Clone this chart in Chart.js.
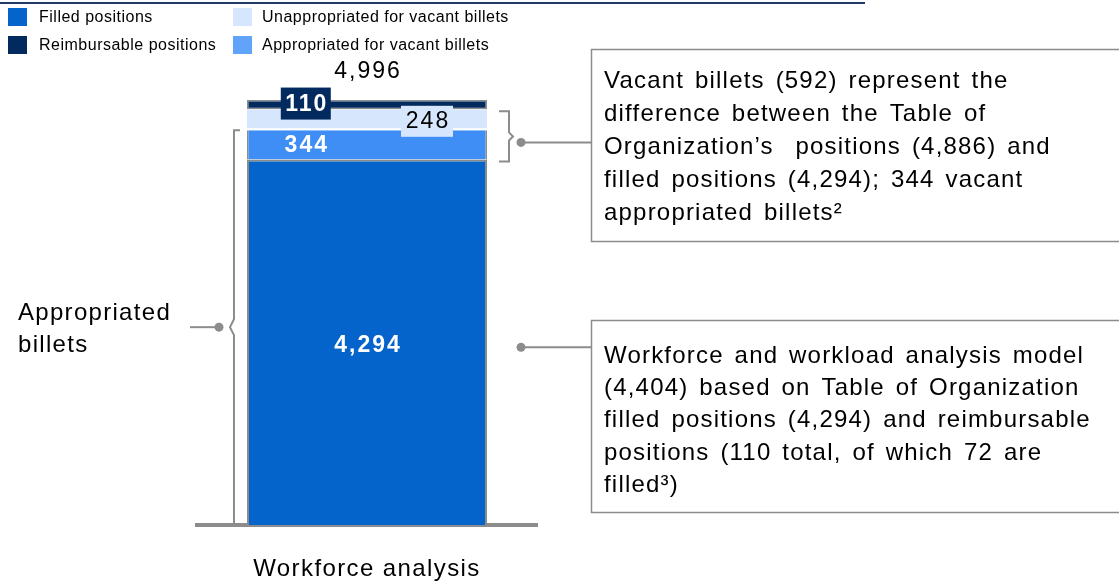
<!DOCTYPE html>
<html><head><meta charset="utf-8">
<script src="https://cdn.jsdelivr.net/npm/chart.js@4/dist/chart.umd.min.js"></script>
<style>html,body{margin:0;padding:0;background:#fff;overflow:hidden}#wrap{position:relative;width:1119px;height:586px}</style>
</head><body><div id="wrap"><canvas id="c" width="1119" height="586"></canvas></div>
<script>
// ---- data ----
const categories = ['Workforce analysis'];
const filledPositions = [4294];
const appropriatedVacant = [344];
const unappropriatedVacant = [248];
const reimbursablePositions = [110];
const totalLabel = ['4,996'];
const segmentLabels = ['4,294', '344', '248', '110'];
const legendNames = ['Filled positions', 'Reimbursable positions', 'Unappropriated for vacant billets', 'Appropriated for vacant billets'];
const leftNote = ['Appropriated', 'billets'];
const note1 = ['Vacant billets (592) represent the', 'difference between the Table of', 'Organization\u2019s  positions (4,886) and', 'filled positions (4,294); 344 vacant', 'appropriated billets\u00B2'];
const note2 = ['Workforce and workload analysis model', '(4,404) based on Table of Organization', 'filled positions (4,294) and reimbursable', 'positions (110 total, of which 72 are', 'filled\u00B3)'];

const C_FILLED = '#0563CC', C_APPR = '#3F8EF5', C_UNAPPR = '#D6E6FC', C_REIMB = '#022A5E', GRAY = '#8c8c8c';
const FONT = "'Liberation Sans', Arial, sans-serif";
Chart.defaults.font.family = FONT;

const spacing = {
  id: 'spacing',
  beforeDraw(chart) { chart.ctx.letterSpacing = '1.4px'; },
  beforeDatasetsDraw(chart) { chart.ctx.letterSpacing = '0px'; }
};

const overlay = {
  id: 'overlay',
  afterDraw(chart) {
    const ctx = chart.ctx;
    const y = chart.scales.y;
    const mF = chart.getDatasetMeta(0).data[0];
    const bl = mF.x - mF.width / 2, bw = mF.width;
    ctx.save();
    // top rule
    ctx.fillStyle = '#1f3864';
    ctx.fillRect(0, 2, 865, 2);
    // legend
    const leg = [[legendNames[0], C_FILLED, 8, 8, 39], [legendNames[1], C_REIMB, 8, 36, 39], [legendNames[2], C_UNAPPR, 233, 8, 262], [legendNames[3], '#62A3FA', 233, 36, 262]];
    ctx.font = '16px ' + FONT; ctx.textBaseline = 'middle'; ctx.textAlign = 'left';
    ctx.letterSpacing = '0.5px';
    leg.forEach(([t, c, sx, sy, tx]) => { ctx.fillStyle = c; ctx.fillRect(sx, sy, 19, 18); ctx.fillStyle = '#000'; ctx.fillText(t, tx, sy + 10); });

    const v0 = filledPositions[0], v1 = v0 + appropriatedVacant[0], v2 = v1 + unappropriatedVacant[0], v3 = v2 + reimbursablePositions[0];
    const p0 = y.getPixelForValue(0), pF = y.getPixelForValue(v0), pA = y.getPixelForValue(v1), pU = y.getPixelForValue(v2), pT = y.getPixelForValue(v3);

    ctx.textAlign = 'center';
    ctx.letterSpacing = '2px';
    // 4,294
    ctx.fillStyle = '#fff'; ctx.font = 'bold 23px ' + FONT;
    ctx.fillText(segmentLabels[0], bl + bw * 0.5 + 1, (p0 + pF) / 2 + 3);
    // 344
    ctx.fillText(segmentLabels[1], bl + bw * 0.245 + 1, (pF + pA) / 2 + 1);
    // 248 box
    const cx248 = bl + bw * 0.75, cy248 = (pA + pU) / 2 + 1;
    ctx.fillStyle = C_UNAPPR; ctx.fillRect(cx248 - 26, cy248 - 15, 52, 31);
    ctx.fillStyle = '#000'; ctx.font = '23px ' + FONT; ctx.fillText(segmentLabels[2], cx248 + 1, cy248 + 1);
    // 110 box
    const cx110 = bl + bw * 0.245, cy110 = (pU + pT) / 2 - 1;
    ctx.fillStyle = C_REIMB; ctx.fillRect(cx110 - 25, cy110 - 16, 50, 32);
    ctx.fillStyle = '#fff'; ctx.font = 'bold 23px ' + FONT; ctx.fillText(segmentLabels[3], cx110 + 1, cy110 + 1);
    // total
    ctx.fillStyle = '#000'; ctx.font = '23px ' + FONT; ctx.fillText(totalLabel[0], bl + bw * 0.5 + 1, pT - 28);

    // braces
    ctx.letterSpacing = '0px';
    ctx.strokeStyle = GRAY; ctx.lineWidth = 2; ctx.fillStyle = GRAY;
    const rx = bl + bw + 22, ry1 = pU + 2, ry2 = pF + 2, rmid = (ry1 + ry2) / 2;
    ctx.beginPath();
    ctx.moveTo(rx - 10, ry1); ctx.lineTo(rx, ry1); ctx.lineTo(rx, rmid - 4); ctx.lineTo(rx + 4, rmid); ctx.lineTo(rx, rmid + 4); ctx.lineTo(rx, ry2); ctx.lineTo(rx - 10, ry2);
    ctx.stroke();
    ctx.beginPath(); ctx.moveTo(rx + 12, rmid + 6); ctx.lineTo(591, rmid + 6); ctx.stroke();
    ctx.beginPath(); ctx.arc(rx + 12, rmid + 6, 4.5, 0, Math.PI * 2); ctx.fill();
    const fy = (p0 + pF) / 2 + 5;
    ctx.beginPath(); ctx.moveTo(rx + 12, fy); ctx.lineTo(591, fy); ctx.stroke();
    ctx.beginPath(); ctx.arc(rx + 12, fy, 4.5, 0, Math.PI * 2); ctx.fill();
    const lx = bl - 13, ly1 = pA, ly2 = p0 - 1, lmid = (ly1 + ly2) / 2;
    ctx.beginPath();
    ctx.moveTo(lx + 6, ly1); ctx.lineTo(lx, ly1); ctx.lineTo(lx, lmid - 8); ctx.lineTo(lx - 4, lmid); ctx.lineTo(lx, lmid + 8); ctx.lineTo(lx, ly2); ctx.lineTo(lx + 6, ly2);
    ctx.stroke();
    ctx.beginPath(); ctx.moveTo(190, lmid); ctx.lineTo(lx - 15, lmid); ctx.stroke();
    ctx.beginPath(); ctx.arc(lx - 15, lmid, 4.5, 0, Math.PI * 2); ctx.fill();
    ctx.fillStyle = '#000'; ctx.textAlign = 'left'; ctx.font = '24px ' + FONT;
    ctx.letterSpacing = '1.3px';
    ctx.fillText(leftNote[0], 18, lmid - 14); ctx.fillText(leftNote[1], 18, lmid + 18);

    // callout boxes
    ctx.letterSpacing = '0px';
    ctx.strokeStyle = GRAY; ctx.lineWidth = 1.5;
    ctx.fillStyle = '#fff'; ctx.fillRect(591, 49, 600, 192); ctx.strokeRect(591.5, 49.5, 600, 192);
    ctx.fillRect(591, 320, 600, 192); ctx.strokeRect(591.5, 320.5, 600, 192);
    ctx.fillStyle = '#000'; ctx.font = '24px ' + FONT;
    ctx.letterSpacing = '1.2px'; ctx.wordSpacing = '3px';
    note1.forEach((t, i) => ctx.fillText(t, 604, 81 + i * 33));
    note2.forEach((t, i) => ctx.fillText(t, 604, 356 + i * 32.3));
    ctx.restore();
  }
};

new Chart(document.getElementById('c'), {
  type: 'bar',
  data: {
    labels: categories,
    datasets: [
      { label: 'Filled positions', data: filledPositions, backgroundColor: C_FILLED, borderColor: GRAY, borderWidth: { top: 2, left: 2, right: 2, bottom: 0 }, borderSkipped: false },
      { label: 'Appropriated for vacant billets', data: appropriatedVacant, backgroundColor: C_APPR, borderColor: GRAY, borderWidth: { top: 0, left: 1.5, right: 1.5, bottom: 0 }, borderSkipped: false },
      { label: 'Unappropriated for vacant billets', data: unappropriatedVacant, backgroundColor: C_UNAPPR, borderColor: '#ffffff', borderWidth: { top: 0, left: 0, right: 0, bottom: 2 }, borderSkipped: false },
      { label: 'Reimbursable positions', data: reimbursablePositions, backgroundColor: C_REIMB, borderColor: GRAY, borderWidth: 1.5, borderSkipped: false }
    ]
  },
  options: {
    responsive: false, animation: false,
    layout: { padding: { left: 197, right: 582, top: 57, bottom: 0 } },
    plugins: { legend: { display: false }, tooltip: { enabled: false } },
    datasets: { bar: { barPercentage: 0.706, categoryPercentage: 1 } },
    scales: {
      x: { stacked: true, grid: { display: false, drawTicks: false }, border: { display: true, color: GRAY, width: 4 },
           ticks: { color: '#000', font: { size: 24 }, padding: 30 }, afterFit(a) { a.height = 61; } },
      y: { stacked: true, display: false, min: 0, max: 5500 }
    }
  },
  plugins: [spacing, overlay]
});
</script></body></html>
